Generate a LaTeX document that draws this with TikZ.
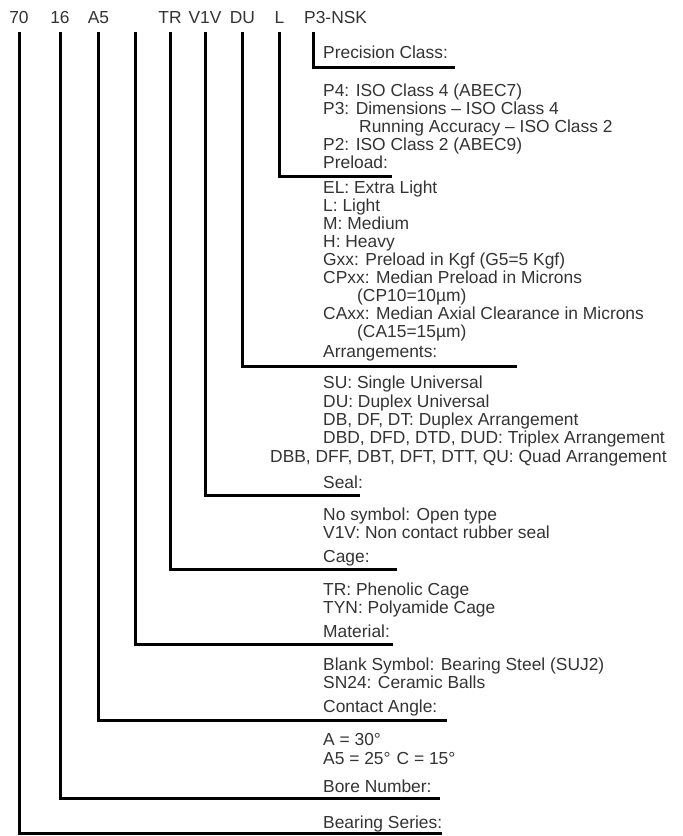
\documentclass[tikz,border=0pt]{standalone}
\usepackage{fontspec}
\setmainfont{Liberation Sans}
\usepackage{tikz}
\usetikzlibrary{positioning,calc}

\begin{document}
\begin{tikzpicture}[x=1pt,y=-1pt,
  every node/.style={font=\fontsize{17.4}{18}\selectfont,text=black!80},
  code/.style={anchor=base,inner xsep=0pt,inner ysep=9pt},
  head/.style={anchor=base west,inner sep=0pt},
  item/.style={anchor=base west,inner sep=0pt},
  lead/.style={line width=3pt,line join=miter}]
\useasboundingbox (0,0) rectangle (683,836);
\node[code] (c70) at (19,23) {70};
\node[code] (c16) at (60,23) {16};
\node[code] (ca5) at (98.5,23) {A5};
\node[code] (ctr) at (170,23) {TR};
\node[code] (cv1v) at (205,23) {V1V};
\node[code] (cdu) at (242.5,23) {DU};
\node[code] (cl) at (279.5,23) {L};
\node[code,anchor=base west] (cp3) at (304,23) {P3-NSK};
\coordinate (cmat) at (135.5,32);
\coordinate (eprec) at (455,67);
\coordinate (epre) at (392,176);
\coordinate (earr) at (517,366);
\coordinate (eseal) at (360,495);
\coordinate (ecage) at (397,569);
\coordinate (emat) at (393,644);
\coordinate (eang) at (447,720);
\coordinate (ebore) at (440,798);
\coordinate (eser) at (442,833);
\draw[lead] ([xshift=9.5pt]cp3.south west) |- (eprec);
\draw[lead] (cl.south) |- (epre);
\draw[lead] (cdu.south) |- (earr);
\draw[lead] (cv1v.south) |- (eseal);
\draw[lead] (ctr.south) |- (ecage);
\draw[lead] (cmat) |- (emat);
\draw[lead] (ca5.south) |- (eang);
\draw[lead] (c16.south) |- (ebore);
\draw[lead] (c70.south) |- (eser);
\node[head] (hprec) at (323,58) {Precision Class:};
\node[item] (p4) at (323,96) {P4: ISO Class 4 (ABEC7)};
\node[item] (p3) at (323,114) {P3: Dimensions -- ISO Class 4};
\node[item] (p3b) at (359,132) {Running Accuracy -- ISO Class 2};
\node[item] (p2) at (323,150) {P2: ISO Class 2 (ABEC9)};
\node[head] (hpre) at (323,168) {Preload:};
\node[item] (el) at (323,193) {EL: Extra Light};
\node[item] (ll) at (323,211) {L: Light};
\node[item] (mm) at (323,229) {M: Medium};
\node[item] (hh) at (323,247) {H: Heavy};
\node[item] (gxx) at (323,265) {Gxx: Preload in Kgf (G5=5 Kgf)};
\node[item] (cpxx) at (323,283) {CPxx: Median Preload in Microns};
\node[item] (cp10) at (357,301) {(CP10=10µm)};
\node[item] (caxx) at (323,319) {CAxx: Median Axial Clearance in Microns};
\node[item] (ca15) at (357,337) {(CA15=15µm)};
\node[head] (harr) at (323,357) {Arrangements:};
\node[item] (su) at (323,388) {SU: Single Universal};
\node[item] (du) at (323,407) {DU: Duplex Universal};
\node[item] (db) at (323,425) {DB, DF, DT: Duplex Arrangement};
\node[item] (dbd) at (323,443) {DBD, DFD, DTD, DUD: Triplex Arrangement};
\node[item] (dbb) at (270,462) {DBB, DFF, DBT, DFT, DTT, QU: Quad Arrangement};
\node[head] (hseal) at (323,488) {Seal:};
\node[item] (nosym) at (323,520) {No symbol: Open type};
\node[item] (v1v) at (323,538) {V1V: Non contact rubber seal};
\node[head] (hcage) at (323,562) {Cage:};
\node[item] (tr) at (323,595) {TR: Phenolic Cage};
\node[item] (tyn) at (323,613) {TYN: Polyamide Cage};
\node[head] (hmat) at (323,637) {Material:};
\node[item] (blank) at (323,670) {Blank Symbol: Bearing Steel (SUJ2)};
\node[item] (sn24) at (323,688) {SN24: Ceramic Balls};
\node[head] (hang) at (323,712) {Contact Angle:};
\node[item] (a30) at (323,745) {A = 30°};
\node[item] (a25) at (323,764) {A5 = 25°\hspace{6pt}C = 15°};
\node[head] (hbore) at (323,792) {Bore Number:};
\node[head] (hser) at (323,828) {Bearing Series:};
\end{tikzpicture}
\end{document}
